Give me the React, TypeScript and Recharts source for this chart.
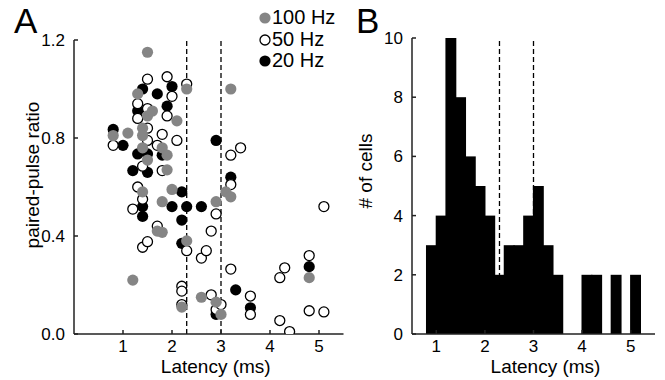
import React from "react";
import {
  ScatterChart,
  Scatter,
  BarChart,
  Bar,
  XAxis,
  YAxis,
  ReferenceLine,
  Legend,
  Label,
} from "recharts";

const FONT = '"Liberation Sans", Arial, Helvetica, sans-serif';
const GRAY = "#858585";

// panel A: paired-pulse ratio vs latency, one list per stimulus frequency
const hz100 = [
  { latency: 1.5, ratio: 1.15 }, { latency: 1.3, ratio: 0.98 }, { latency: 2.3, ratio: 1.0 },
  { latency: 3.2, ratio: 1.0 }, { latency: 1.5, ratio: 0.89 }, { latency: 1.6, ratio: 0.91 },
  { latency: 2.1, ratio: 0.87 }, { latency: 0.8, ratio: 0.81 }, { latency: 1.1, ratio: 0.82 },
  { latency: 1.4, ratio: 0.84 }, { latency: 1.4, ratio: 0.81 }, { latency: 1.4, ratio: 0.76 },
  { latency: 1.8, ratio: 0.76 }, { latency: 1.9, ratio: 0.73 }, { latency: 1.5, ratio: 0.71 },
  { latency: 1.9, ratio: 0.67 }, { latency: 1.4, ratio: 0.58 }, { latency: 2.0, ratio: 0.59 },
  { latency: 1.8, ratio: 0.54 }, { latency: 2.9, ratio: 0.54 }, { latency: 3.1, ratio: 0.58 },
  { latency: 3.2, ratio: 0.56 }, { latency: 1.7, ratio: 0.42 }, { latency: 1.8, ratio: 0.415 },
  { latency: 2.3, ratio: 0.38 }, { latency: 1.2, ratio: 0.22 }, { latency: 2.2, ratio: 0.11 },
  { latency: 2.6, ratio: 0.15 }, { latency: 2.9, ratio: 0.13 }, { latency: 3.0, ratio: 0.08 },
  { latency: 4.8, ratio: 0.23 },
];

const hz50 = [
  { latency: 1.5, ratio: 1.04 }, { latency: 1.9, ratio: 1.05 }, { latency: 2.3, ratio: 1.02 },
  { latency: 2.0, ratio: 0.97 }, { latency: 1.3, ratio: 0.94 }, { latency: 1.3, ratio: 0.88 },
  { latency: 1.5, ratio: 0.92 }, { latency: 1.9, ratio: 0.89 }, { latency: 1.5, ratio: 0.84 },
  { latency: 1.8, ratio: 0.815 }, { latency: 2.1, ratio: 0.79 }, { latency: 0.8, ratio: 0.77 },
  { latency: 1.5, ratio: 0.79 }, { latency: 1.7, ratio: 0.77 }, { latency: 1.4, ratio: 0.685 },
  { latency: 1.8, ratio: 0.667 }, { latency: 1.3, ratio: 0.6 }, { latency: 1.2, ratio: 0.51 },
  { latency: 1.4, ratio: 0.55 }, { latency: 1.7, ratio: 0.44 }, { latency: 1.4, ratio: 0.354 },
  { latency: 1.5, ratio: 0.377 }, { latency: 2.3, ratio: 0.34 }, { latency: 2.6, ratio: 0.31 },
  { latency: 2.7, ratio: 0.34 }, { latency: 2.9, ratio: 0.49 }, { latency: 2.8, ratio: 0.42 },
  { latency: 3.2, ratio: 0.73 }, { latency: 3.4, ratio: 0.76 }, { latency: 3.2, ratio: 0.61 },
  { latency: 3.2, ratio: 0.265 }, { latency: 2.2, ratio: 0.195 }, { latency: 2.2, ratio: 0.175 },
  { latency: 2.2, ratio: 0.12 }, { latency: 2.8, ratio: 0.16 }, { latency: 2.9, ratio: 0.1 },
  { latency: 3.0, ratio: 0.12 }, { latency: 3.6, ratio: 0.155 }, { latency: 3.6, ratio: 0.08 },
  { latency: 4.2, ratio: 0.23 }, { latency: 4.3, ratio: 0.27 }, { latency: 4.8, ratio: 0.32 },
  { latency: 4.8, ratio: 0.095 }, { latency: 5.1, ratio: 0.09 }, { latency: 5.1, ratio: 0.52 },
  { latency: 4.2, ratio: 0.055 }, { latency: 4.4, ratio: 0.01 },
];

const hz20 = [
  { latency: 1.4, ratio: 1.0 }, { latency: 1.7, ratio: 0.98 }, { latency: 2.0, ratio: 1.01 },
  { latency: 1.3, ratio: 0.91 }, { latency: 1.9, ratio: 0.93 }, { latency: 0.8, ratio: 0.835 },
  { latency: 1.0, ratio: 0.77 }, { latency: 1.3, ratio: 0.735 }, { latency: 1.5, ratio: 0.735 },
  { latency: 1.8, ratio: 0.73 }, { latency: 1.2, ratio: 0.667 }, { latency: 1.5, ratio: 0.66 },
  { latency: 3.2, ratio: 0.64 }, { latency: 2.9, ratio: 0.79 }, { latency: 2.2, ratio: 0.58 },
  { latency: 1.4, ratio: 0.52 }, { latency: 2.0, ratio: 0.52 }, { latency: 2.3, ratio: 0.52 },
  { latency: 2.6, ratio: 0.52 }, { latency: 1.4, ratio: 0.48 }, { latency: 2.2, ratio: 0.465 },
  { latency: 2.2, ratio: 0.37 }, { latency: 3.3, ratio: 0.18 }, { latency: 3.6, ratio: 0.107 },
  { latency: 2.9, ratio: 0.08 }, { latency: 4.8, ratio: 0.275 },
];

// panel B: latency histogram (0.2 ms bins)
const binCenters = [
  0.9, 1.1, 1.3, 1.5, 1.7, 1.9, 2.1, 2.3, 2.5, 2.7, 2.9,
  3.1, 3.3, 3.5, 3.7, 3.9, 4.1, 4.3, 4.5, 4.7, 4.9, 5.1,
];
const cellCounts = [3, 4, 10, 8, 6, 5, 4, 2, 3, 3, 4, 5, 3, 2, 0, 0, 2, 2, 0, 2, 0, 2];

const latencyTicks = [1, 2, 3, 4, 5];
const ratioTicks = [0, 0.4, 0.8, 1.2];
const countTicks = [0, 2, 4, 6, 8, 10];
const dashedLatencies = [2.3, 3.0];

const histData = binCenters.map((latency, i) => ({ latency, cells: cellCounts[i] }));

// drawn in this order so 100 Hz sits on top
const series = [
  { name: "20 Hz", data: hz20, fill: "#000", stroke: "none" },
  { name: "50 Hz", data: hz50, fill: "#fff", stroke: "#000" },
  { name: "100 Hz", data: hz100, fill: GRAY, stroke: "none" },
];
const legendOrder = ["100 Hz", "50 Hz", "20 Hz"];

const tickStyle = { fontSize: 17, fill: "#000", fontFamily: FONT };
const axisStroke = { stroke: "#222", strokeWidth: 1.5 };

function Dot(props: any) {
  const { cx, cy, fill, stroke } = props;
  if (stroke === "none") return <circle cx={cx} cy={cy} r={5.6} fill={fill} />;
  return <circle cx={cx} cy={cy} r={5} fill={fill} stroke={stroke} strokeWidth={1.3} />;
}

// histogram bins: widen each rect a touch so neighbours close up without seams
function HistBar(props: any) {
  const { x, y, width, height } = props;
  if (!height || height <= 0) return null;
  return <rect x={x - 0.6} y={y} width={width + 1.2} height={height} fill="#000" />;
}

function FreqLegend() {
  return (
    <div style={{ fontFamily: FONT, fontSize: 20, lineHeight: "21.7px", color: "#000" }}>
      {legendOrder.map((name) => {
        const s = series.find((d) => d.name === name)!;
        return (
          <div key={name} style={{ display: "flex", alignItems: "center", whiteSpace: "nowrap" }}>
            <svg width={14} height={14}>
              {s.stroke === "none" ? (
                <circle cx={7} cy={7} r={5.6} fill={s.fill} />
              ) : (
                <circle cx={7} cy={7} r={5} fill={s.fill} stroke={s.stroke} strokeWidth={1.3} />
              )}
            </svg>
            <span>{name}</span>
          </div>
        );
      })}
    </div>
  );
}

const panelLetter: React.CSSProperties = {
  position: "absolute",
  top: 3,
  fontFamily: FONT,
  fontSize: 35,
  lineHeight: "35px",
  color: "#000",
};

export default function App() {
  return (
    <div style={{ position: "absolute", left: 0, top: 0, width: 665, height: 380, background: "#fff", overflow: "hidden" }}>
      <div style={{ position: "absolute", left: 0, top: 0 }}>
        <ScatterChart width={346} height={380} margin={{ top: 40, right: 2.5, left: 0, bottom: 7 }}>
          <XAxis
            dataKey="latency"
            type="number"
            domain={[0, 5.5]}
            ticks={latencyTicks}
            tick={tickStyle}
            tickSize={-4}
            tickMargin={10}
            axisLine={axisStroke}
            tickLine={axisStroke}
            height={39}
            allowDataOverflow
          >
            <Label value="Latency (ms)" position="insideBottom" offset={0} dx={7} style={{ fontSize: 19, fill: "#000", fontFamily: FONT }} />
          </XAxis>
          <YAxis
            dataKey="ratio"
            type="number"
            domain={[0, 1.2]}
            ticks={ratioTicks}
            tickFormatter={(v: number) => v.toFixed(1)}
            tick={tickStyle}
            tickSize={-4}
            tickMargin={13}
            axisLine={axisStroke}
            tickLine={axisStroke}
            width={74}
            allowDataOverflow
          >
            <Label value="paired-pulse ratio" position="center" angle={-90} dx={-5} dy={-12} style={{ fontSize: 19, fill: "#000", fontFamily: FONT, textAnchor: "middle" }} />
          </YAxis>
          {dashedLatencies.map((x) => (
            <ReferenceLine key={x} x={x} stroke="#000" strokeWidth={1.3} strokeDasharray="5 3" />
          ))}
          {series.map((s) => (
            <Scatter
              key={s.name}
              name={s.name}
              data={s.data}
              fill={s.fill}
              stroke={s.stroke}
              shape={(p: any) => <Dot {...p} fill={s.fill} stroke={s.stroke} />}
              isAnimationActive={false}
            />
          ))}
          <Legend
            layout="vertical"
            align="center"
            verticalAlign="middle"
            content={() => <FreqLegend />}
            wrapperStyle={{ left: 258, top: 7, width: 100 }}
          />
        </ScatterChart>
      </div>

      <div style={{ position: "absolute", left: 346, top: 0 }}>
        <BarChart width={319} height={380} data={histData} barCategoryGap={0} margin={{ top: 38, right: 10, left: 0, bottom: 7 }}>
          <XAxis
            dataKey="latency"
            type="number"
            domain={[0.5, 5.5]}
            ticks={latencyTicks}
            tick={tickStyle}
            tickSize={-4}
            tickMargin={10}
            axisLine={axisStroke}
            tickLine={axisStroke}
            height={39}
            allowDataOverflow
          >
            <Label value="Latency (ms)" position="insideBottom" offset={0} dx={12} style={{ fontSize: 19, fill: "#000", fontFamily: FONT }} />
          </XAxis>
          <YAxis
            type="number"
            domain={[0, 10]}
            ticks={countTicks}
            tick={tickStyle}
            tickSize={-4}
            tickMargin={13}
            axisLine={axisStroke}
            tickLine={axisStroke}
            width={66}
            allowDataOverflow
          >
            <Label value="# of cells" position="center" angle={-90} dx={-14} dy={-15} style={{ fontSize: 19, fill: "#000", fontFamily: FONT, textAnchor: "middle" }} />
          </YAxis>
          {dashedLatencies.map((x) => (
            <ReferenceLine key={x} x={x} stroke="#000" strokeWidth={1.3} strokeDasharray="5 3" />
          ))}
          <Bar dataKey="cells" fill="#000" barSize={9.7} shape={(p: any) => <HistBar {...p} />} isAnimationActive={false} />
        </BarChart>
      </div>

      <div style={{ ...panelLetter, left: 14 }}>A</div>
      <div style={{ ...panelLetter, left: 356 }}>B</div>
    </div>
  );
}
